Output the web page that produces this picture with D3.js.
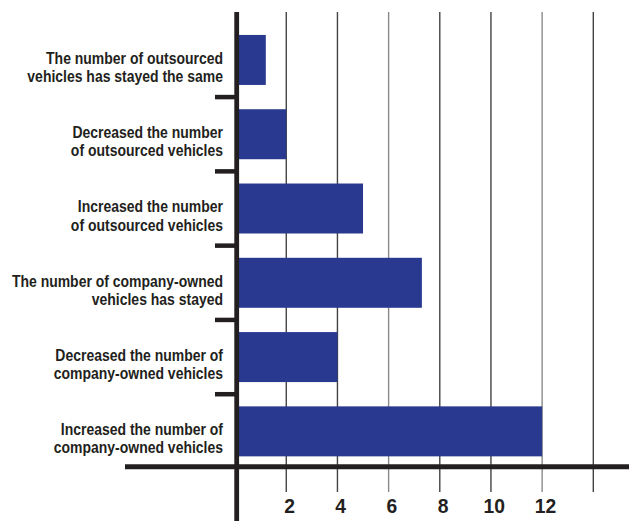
<!DOCTYPE html>
<html><head><meta charset="utf-8">
<script src="https://cdn.jsdelivr.net/npm/d3@7"></script>
<style>
html,body{margin:0;padding:0;background:#fff;}
svg{display:block;}
text{font-family:"Liberation Sans","Arial",sans-serif;font-weight:bold;fill:#231f20;}
</style></head>
<body>
<svg id="chart" width="634" height="521"></svg>
<script>
const categories = [
  ["The number of outsourced", "vehicles has stayed the same"],
  ["Decreased the number", "of outsourced vehicles"],
  ["Increased the number", "of outsourced vehicles"],
  ["The number of company-owned", "vehicles has stayed"],
  ["Decreased the number of", "company-owned vehicles"],
  ["Increased the number of", "company-owned vehicles"]
];
const values = [1.2, 2, 5, 7.3, 4, 12];
const tickLabels = [2, 4, 6, 8, 10, 12];
const gridValues = [2, 4, 6, 8, 10, 12, 14];

const svg = d3.select("#chart");
const ink = "#231f20";
const barColor = "#29398f";

const x = d3.scaleLinear().domain([0, 14]).range([235.1, 593.3]);
const y = d3.scaleBand().domain(d3.range(categories.length))
  .range([22.8, 468.5]).paddingInner(0.327).paddingOuter(0.1635);

// gridlines
svg.append("g").selectAll("line").data(gridValues).join("line")
  .attr("x1", d => x(d)).attr("x2", d => x(d))
  .attr("y1", 12).attr("y2", 492)
  .attr("stroke", (d,i) => i % 3 === 2 ? "#8a8a8a" : "#444")
  .attr("stroke-width", 1.4);

// bars
svg.append("g").selectAll("rect").data(values).join("rect")
  .attr("x", x(0)).attr("y", (d,i) => y(i))
  .attr("width", d => x(d) - x(0)).attr("height", y.bandwidth())
  .attr("fill", barColor);

// category boundary ticks
const step = y.step();
const bounds = d3.range(1, categories.length).map(i => y(i) - (step - y.bandwidth())/2);
svg.append("g").selectAll("line").data(bounds).join("line")
  .attr("x1", 215).attr("x2", 237).attr("y1", d => d).attr("y2", d => d)
  .attr("stroke", ink).attr("stroke-width", 4.5);

// axes
svg.append("line").attr("x1", 125).attr("x2", 629).attr("y1", 466.7).attr("y2", 466.7)
  .attr("stroke", ink).attr("stroke-width", 5);
svg.append("line").attr("x1", 236.7).attr("x2", 236.7).attr("y1", 12).attr("y2", 521)
  .attr("stroke", ink).attr("stroke-width", 4.8);

// category labels (condensed by horizontal scaling)
const labG = svg.append("g").attr("transform", "translate(223,0)");
const lab = labG.selectAll("text").data(categories).join("text")
  .attr("text-anchor", "end").attr("font-size", 16.3);
lab.each(function(d, i) {
  const c = y(i) + y.bandwidth()/2;
  d3.select(this).selectAll("tspan").data(d).join("tspan")
    .attr("x", 0).attr("y", (t, j) => c + 4 + j*18).text(t => t);
});
// fit: widest line "The number of company-owned" spans 211px in the reference
const probe = labG.append("text").attr("font-size", 16.3).text(categories[3][0]);
const k = 211 / probe.node().getComputedTextLength();
probe.remove();
labG.attr("transform", `translate(223,0) scale(${k},1)`);

// tick labels
svg.append("g").selectAll("text").data(tickLabels).join("text")
  .attr("text-anchor", "middle").attr("font-size", 21)
  .attr("transform", d => `translate(${x(d) + 3.3},513.3) scale(0.92,1)`)
  .text(d => d);
</script>
</body></html>
